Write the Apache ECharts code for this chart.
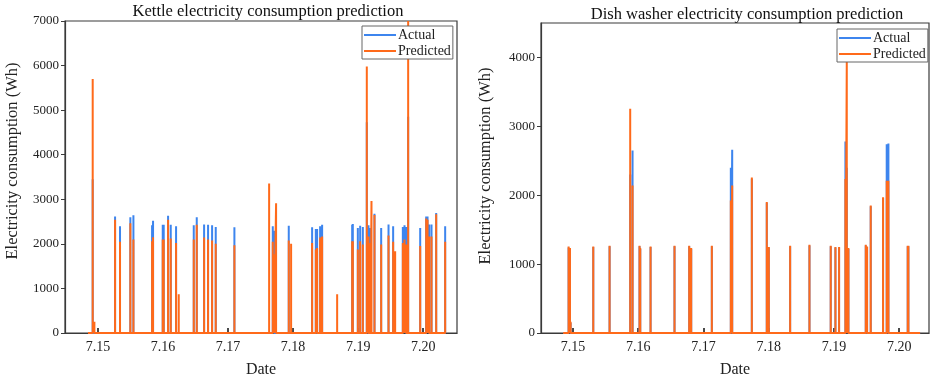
<!DOCTYPE html>
<html><head><meta charset="utf-8">
<script src="https://cdn.jsdelivr.net/npm/echarts@6/dist/echarts.min.js"></script>
<style>html,body{margin:0;padding:0;background:#fff}#c{width:934px;height:383px}</style>
</head><body><div id="c"></div>
<script>
// Time in days of July (15 = 7.15)
const xTickValues = [15, 16, 17, 18, 19, 20];
const xTickLabels = ['7.15', '7.16', '7.17', '7.18', '7.19', '7.20'];

const kettleTime = [14.846, 14.918, 14.944, 15.262, 15.338, 15.497, 15.544, 15.831, 15.846, 15.995, 16.010, 16.077, 16.118, 16.200, 16.241, 16.472, 16.518, 16.631, 16.692, 16.754, 16.810, 17.097, 17.631, 17.687, 17.708, 17.738, 17.933, 17.969, 18.292, 18.349, 18.369, 18.415, 18.446, 18.677, 18.908, 18.918, 18.995, 19.031, 19.072, 19.133, 19.159, 19.190, 19.205, 19.251, 19.354, 19.467, 19.538, 19.569, 19.687, 19.713, 19.738, 19.769, 19.954, 20.046, 20.067, 20.092, 20.128, 20.200, 20.338, 20.345];
const kettleActual = [0, 3450, 0, 2615, 2395, 2595, 2640, 2415, 2520, 2430, 2430, 2630, 2430, 2395, 0, 2415, 2595, 2435, 2430, 2415, 2380, 2370, 0, 2395, 2295, 0, 2405, 0, 2370, 2335, 2335, 2395, 2430, 0, 2430, 2445, 2355, 2405, 2380, 4730, 2415, 2355, 0, 2675, 2355, 2435, 2395, 0, 2380, 2415, 2380, 4850, 2355, 2615, 2615, 2435, 2435, 2690, 2395, 0];
const kettlePredicted = [0, 5700, 250, 2540, 2045, 2465, 2100, 2060, 2150, 2095, 2095, 2540, 2120, 2020, 870, 2095, 2430, 2140, 2095, 2075, 2000, 1970, 3355, 2045, 1765, 2910, 2075, 2000, 2020, 1875, 1905, 2140, 2165, 870, 2060, 2060, 1875, 2060, 1985, 5980, 2165, 2020, 2960, 2650, 1985, 2185, 2045, 1835, 2020, 2095, 1985, 7000, 1950, 2570, 2540, 2165, 2165, 2665, 2045, 0];

const dishTime = [14.850, 14.933, 14.954, 14.964, 15.311, 15.561, 15.877, 15.913, 16.020, 16.031, 16.189, 16.556, 16.781, 16.812, 17.128, 17.419, 17.440, 17.741, 17.970, 18.001, 18.328, 18.624, 18.950, 19.022, 19.078, 19.175, 19.196, 19.221, 19.487, 19.507, 19.563, 19.752, 19.808, 19.834, 20.130, 20.140, 20.320];
const dishActual = [0, 1240, 1220, 150, 1250, 1260, 2300, 2650, 1260, 1220, 1250, 1260, 1260, 1220, 1260, 2400, 2660, 2240, 1890, 1240, 1260, 1270, 1260, 1240, 1240, 2780, 2400, 1220, 1270, 1250, 1840, 1960, 2740, 2750, 1260, 1260, 0];
const dishPredicted = [0, 1257, 1233, 162, 1257, 1267, 3257, 2140, 1267, 1233, 1257, 1267, 1267, 1233, 1267, 1925, 2140, 2257, 1900, 1250, 1267, 1280, 1267, 1250, 1250, 2235, 3950, 1233, 1280, 1257, 1852, 1971, 2210, 2210, 1267, 1267, 0];

function spikes(times, vals) {
  const out = [];
  for (let i = 0; i < times.length; i++) {
    if (vals[i] === 0) { out.push([times[i], 0]); }
    else { out.push([times[i], 0], [times[i], vals[i]], [times[i], 0]); }
  }
  return out;
}

const FONT = "'Liberation Serif','Times New Roman',serif";
const BLUE = '#3d85ee';
const ORANGE = '#ff6a1a';
const AX = '#3a3a3a';
const Y_NAME = 'Electricity consumption (Wh)';

function xAxis(gridIndex, min, max) {
  return {
    type: 'value', gridIndex, min, max,
    name: 'Date', nameLocation: 'middle', nameGap: 29,
    nameTextStyle: { fontFamily: FONT, fontSize: 16, color: '#222' },
    axisLine: { show: true, lineStyle: { color: AX, width: 1.2 } },
    axisTick: { show: true, inside: true, length: 5, customValues: xTickValues, lineStyle: { color: '#111', width: 1.5 } },
    axisLabel: { customValues: xTickValues, formatter: v => xTickLabels[xTickValues.indexOf(Math.round(v))] || '', fontFamily: FONT, fontSize: 14, color: '#222', margin: 7 },
    splitLine: { show: false }
  };
}
function yAxis(gridIndex, max, showMax) {
  return {
    type: 'value', gridIndex, min: 0, max, interval: 1000,
    axisLine: { show: true, lineStyle: { color: AX, width: 1.2 } },
    axisTick: { show: true, inside: false, length: 4, lineStyle: { color: AX } },
    axisLabel: { formatter: v => String(v), fontFamily: FONT, fontSize: 13, color: '#222', margin: 6, showMaxLabel: showMax },
    splitLine: { show: false }
  };
}
function legend(left, top) {
  return {
    left, top, orient: 'vertical', itemGap: 2, itemWidth: 32, itemHeight: 2, icon: 'rect',
    padding: [2, 2, 1, 2], borderColor: '#666', borderWidth: 1, backgroundColor: '#fff',
    textStyle: { fontFamily: FONT, fontSize: 14, color: '#222', padding: [0, 0, 0, -3] },
    data: ['Actual', 'Predicted']
  };
}
function line(name, color, xi, data) {
  return {
    name, type: 'line', xAxisIndex: xi, yAxisIndex: xi, data, symbol: 'none', showSymbol: false,
    animation: false, lineStyle: { color, width: 2, join: 'bevel' }, itemStyle: { color }
  };
}
function yName(x, y) {
  return { type: 'text', x, y, rotation: Math.PI / 2, silent: true,
    style: { text: Y_NAME, fontFamily: FONT, fontSize: 16.5, fill: '#222', align: 'center', verticalAlign: 'middle' } };
}

const chart = echarts.init(document.getElementById('c'));
chart.setOption({
  backgroundColor: '#fff',
  animation: false,
  title: [
    { text: 'Kettle electricity consumption prediction', left: 263, top: -2, textAlign: 'center',
      textStyle: { fontFamily: FONT, fontSize: 16.5, fontWeight: 'normal', color: '#111' } },
    { text: 'Dish washer electricity consumption prediction', left: 742, top: 1, textAlign: 'center',
      textStyle: { fontFamily: FONT, fontSize: 16.5, fontWeight: 'normal', color: '#111' } }
  ],
  legend: [legend(362, 26), legend(837, 29)],
  grid: [
    { left: 65, top: 21, width: 392, height: 315, show: true, borderColor: AX, borderWidth: 1.2, backgroundColor: 'transparent' },
    { left: 541, top: 23, width: 388, height: 315, show: true, borderColor: AX, borderWidth: 1.2, backgroundColor: 'transparent' }
  ],
  xAxis: [xAxis(0, 14.492, 20.52), xAxis(1, 14.51, 20.456)],
  yAxis: [yAxis(0, 7000, true), yAxis(1, 4500, false)],
  graphic: [yName(13, 161), yName(486, 166)],
  series: [
    line('Actual', BLUE, 0, spikes(kettleTime, kettleActual)),
    line('Predicted', ORANGE, 0, spikes(kettleTime, kettlePredicted)),
    line('Actual', BLUE, 1, spikes(dishTime, dishActual)),
    line('Predicted', ORANGE, 1, spikes(dishTime, dishPredicted))
  ]
});
</script></body></html>
